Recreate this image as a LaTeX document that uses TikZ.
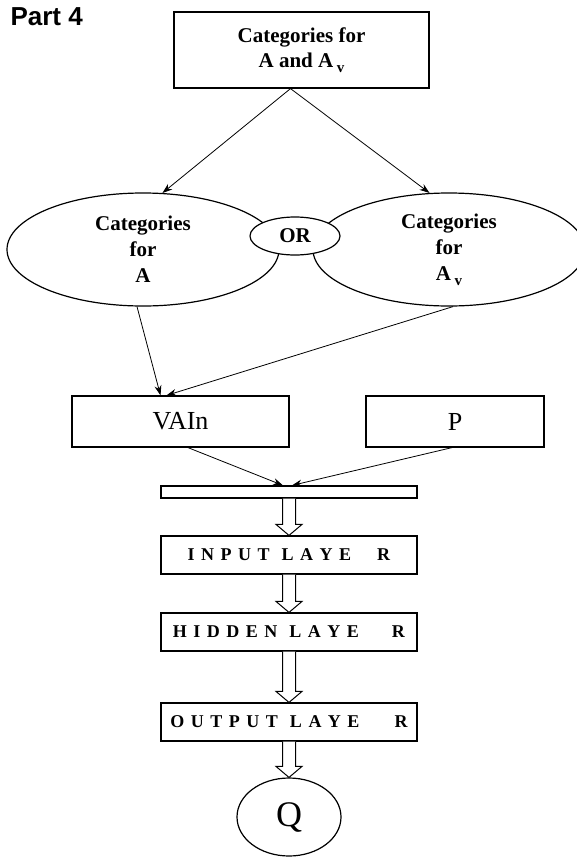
\documentclass[tikz,border=0pt]{standalone}
\usepackage{fontspec}
\setmainfont{Liberation Serif}
\newfontfamily\headfont{Liberation Sans}
\usetikzlibrary{arrows.meta,calc,shapes.geometric}

% spacing helpers for the letter-spaced layer labels
\newcommand\lgap{\hspace{6.5pt}}
\newcommand\wgap{\hspace{12pt}}
% small lowered "v" used as a subscript
\newcommand\vsub{\,\raisebox{-5pt}{\fontsize{15}{15}\selectfont v}}

% hollow block arrow between two stacked nodes
\newcommand\blockarrow[2]{%
  \draw[hollowarrow] let \p1=(#1.south), \p2=(#2.north) in
    (\x1-6.5,\y1) -- (\x1-6.5,\y2+11) -- (\x1-13,\y2+11) -- (\x1,\y2)
    -- (\x1+13,\y2+11) -- (\x1+6.5,\y2+11) -- (\x1+6.5,\y1);}

\tikzset{
  frame/.style={draw, line width=1.2pt, fill=white, inner sep=0pt, align=center},
  catbox/.style={frame, minimum width=255pt, minimum height=76pt,
    font=\fontsize{21}{25}\selectfont\bfseries},
  catoval/.style={ellipse, draw, line width=1.2pt, fill=white, inner sep=0pt,
    minimum width=272pt, minimum height=113pt, align=center,
    font=\fontsize{21}{26}\selectfont\bfseries},
  orvoal/.style={ellipse, draw, line width=1.2pt, fill=white, inner sep=0pt,
    minimum width=90pt, minimum height=38pt, font=\fontsize{21}{21}\selectfont\bfseries},
  inbox/.style={frame, minimum height=51pt, font=\fontsize{26}{26}\selectfont},
  layerbox/.style={frame, minimum width=256pt, minimum height=38pt,
    font=\fontsize{18}{18}\selectfont\bfseries},
  conn/.style={line width=0.8pt, -{Stealth[length=10pt,width=7pt]}},
  hollowarrow/.style={draw, line width=1pt, fill=white},
}

\begin{document}
\begin{tikzpicture}[x=1pt, y=-1pt]
  \useasboundingbox (0,0) rectangle (577,857);

  \node[anchor=base west, font=\headfont\bfseries\fontsize{26}{26}\selectfont]
    (title) at (7,25) {Part 4};

  \node[catbox] (top) at (301.5,50) {Categories for\\A and A\vsub};

  \node[catoval] (le) at (143,249.5) {Categories\\for\\A};
  \node[catoval] (re) at (449,249.5) {Categories\\for\\A\vsub};
  \node[orvoal] (or) at (295,236) {OR};

  \node[inbox, minimum width=217pt] (vain) at (180.5,421.5) {VAIn};
  \node[inbox, minimum width=178pt] (p) at (455,421.5) {P};

  \node[frame, minimum width=256pt, minimum height=12pt] (bar) at (289,492) {};

  \node[layerbox] (inl) at (289,555)
    {I\lgap N\lgap P\lgap U\lgap T\wgap L\lgap A\lgap Y\lgap E\hspace{26pt}R};
  \node[layerbox] (hid) at (289,632)
    {H\lgap I\lgap D\lgap D\lgap E\lgap N\wgap L\lgap A\lgap Y\lgap E\hspace{33pt}R};
  \node[layerbox] (outl) at (289,722)
    {O\lgap U\lgap T\lgap P\lgap U\lgap T\wgap L\lgap A\lgap Y\lgap E\hspace{35pt}R};

  \node[ellipse, draw, line width=1.2pt, fill=white, inner sep=0pt,
    minimum width=104pt, minimum height=78pt, font=\fontsize{36}{36}\selectfont]
    (q) at (289,817) {Q};

  % connectors
  \draw[conn] ([xshift=-11pt]top.south) -- (le.71);
  \draw[conn] ([xshift=-11pt]top.south) -- (re.109);
  \draw[conn] ([xshift=-6pt]le.south) -- ([xshift=-20pt]vain.north);
  \draw[conn] ([xshift=4pt]re.south) -- ([xshift=-14pt]vain.north);
  \draw[conn] ([xshift=7.5pt]vain.south) -- ([xshift=-6pt]bar.north);
  \draw[conn] ([xshift=-3pt]p.south) -- ([xshift=3pt]bar.north);

  % block arrows down the network
  \blockarrow{bar}{inl}
  \blockarrow{inl}{hid}
  \blockarrow{hid}{outl}
  \blockarrow{outl}{q}
\end{tikzpicture}
\end{document}
